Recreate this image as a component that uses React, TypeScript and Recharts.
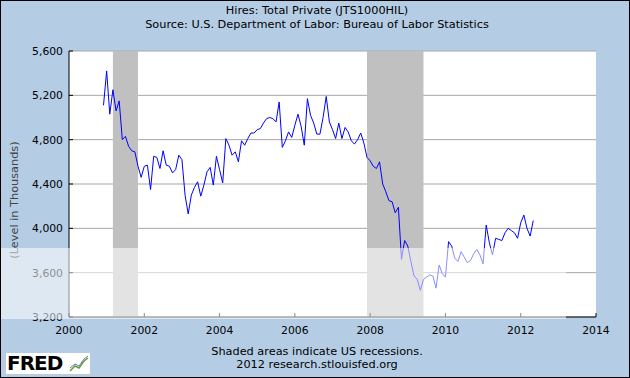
import React from "react";
import {
  LineChart,
  Line,
  XAxis,
  YAxis,
  CartesianGrid,
  ReferenceArea,
} from "recharts";

// monthly private hires, thousands (Dec 2000 .. May 2012)
const START_YEAR = 2000;
const START_MONTH = 12;
const hires2000 = [5110];
const hires2001 = [5420, 5030, 5250, 5060, 5150, 4800, 4830, 4740, 4700, 4690, 4560, 4460];
const hires2002 = [4560, 4570, 4350, 4650, 4640, 4540, 4700, 4570, 4560, 4500, 4530, 4660];
const hires2003 = [4620, 4300, 4130, 4300, 4370, 4420, 4290, 4390, 4510, 4550, 4390, 4650];
const hires2004 = [4530, 4410, 4810, 4750, 4660, 4690, 4600, 4790, 4750, 4810, 4860, 4860];
const hires2005 = [4890, 4900, 4950, 4990, 5000, 4990, 4960, 5140, 4730, 4790, 4870, 4820];
const hires2006 = [4930, 5030, 4920, 4750, 5170, 5020, 4950, 4850, 4850, 5000, 5190, 4960];
const hires2007 = [4890, 4810, 4950, 4810, 4910, 4870, 4790, 4760, 4800, 4860, 4770, 4640];
const hires2008 = [4610, 4560, 4540, 4600, 4400, 4330, 4250, 4240, 4140, 4190, 3720, 3890];
const hires2009 = [3840, 3700, 3570, 3540, 3440, 3540, 3560, 3580, 3570, 3460, 3670, 3590];
const hires2010 = [3560, 3880, 3840, 3730, 3700, 3790, 3740, 3690, 3710, 3770, 3810, 3760];
const hires2011 = [3680, 4030, 3870, 3760, 3910, 3900, 3890, 3960, 4000, 3980, 3960, 3910];
const hires2012 = [4050, 4120, 4000, 3930, 4070];

const X_TICKS = [2000, 2002, 2004, 2006, 2008, 2010, 2012, 2014];
const Y_TICKS = [3200, 3600, 4000, 4400, 4800, 5200, 5600];

// recession start / end (fractional years)
const RECESSIONS = [
  { start: 2001 + 2 / 12, end: 2001 + 10 / 12 },
  { start: 2007 + 11 / 12, end: 2009 + 5 / 12 },
];

const allHires = [
  ...hires2000, ...hires2001, ...hires2002, ...hires2003, ...hires2004, ...hires2005,
  ...hires2006, ...hires2007, ...hires2008, ...hires2009, ...hires2010, ...hires2011, ...hires2012,
];

const chartData = allHires.map((v, i) => ({
  date: START_YEAR + (START_MONTH - 1 + i) / 12,
  hires: v,
}));

const FONT = '"DejaVu Sans", Verdana, sans-serif';

function XTick({ x, y, payload }: any) {
  return (
    <g>
      <line x1={x} x2={x} y1={y} y2={y - 4} stroke="#000" />
      <text x={x} y={y + 17} textAnchor="middle" fontSize={10.8} fontFamily={FONT} fill="#000">
        {payload.value}
      </text>
    </g>
  );
}

function YTick({ x, y, payload }: any) {
  return (
    <g>
      <line x1={x} x2={x + 4} y1={y} y2={y} stroke="#000" />
      <text x={x - 6} y={y + 4} textAnchor="end" fontSize={10.8} fontFamily={FONT} fill="#000">
        {Number(payload.value).toLocaleString("en-US")}
      </text>
    </g>
  );
}

const textLine = (top: number, text: string) => (
  <div
    style={{
      position: "absolute",
      left: 2,
      top,
      width: 630,
      textAlign: "center",
      fontSize: 11.3,
      lineHeight: "13px",
      fontFamily: FONT,
      color: "#000",
      whiteSpace: "nowrap",
    }}
  >
    {text}
  </div>
);

export default function App() {
  return (
    <div
      style={{
        position: "absolute",
        left: 0,
        top: 0,
        width: 630,
        height: 378,
        background: "#b4cde5",
        overflow: "hidden",
        fontFamily: FONT,
      }}
    >
      <LineChart
        width={630}
        height={378}
        data={chartData}
        margin={{ top: 51, right: 34, bottom: 0, left: 0 }}
      >
        <CartesianGrid vertical={false} stroke="#a6a6a6" fill="#fff" />
        {RECESSIONS.map((r) => (
          <ReferenceArea
            key={r.start}
            x1={r.start}
            x2={r.end}
            fill="#c0c0c0"
            fillOpacity={1}
            stroke="none"
          />
        ))}
        <XAxis
          dataKey="date"
          type="number"
          domain={[2000, 2014]}
          ticks={X_TICKS}
          height={61}
          tickSize={0}
          tickMargin={0}
          axisLine={{ stroke: "#000" }}
          tick={(p: any) => <XTick {...p} />}
          interval={0}
          allowDataOverflow
        />
        <YAxis
          domain={[3200, 5600]}
          ticks={Y_TICKS}
          width={69}
          tickSize={0}
          tickMargin={0}
          axisLine={{ stroke: "#000" }}
          tick={(p: any) => <YTick {...p} />}
          interval={0}
          allowDataOverflow
        />
        <Line
          type="linear"
          dataKey="hires"
          stroke="#0000ff"
          strokeWidth={1}
          dot={false}
          isAnimationActive={false}
        />
      </LineChart>

      {textLine(4, "Hires: Total Private (JTS1000HIL)")}
      {textLine(18, "Source: U.S. Department of Labor: Bureau of Labor Statistics")}
      {textLine(344.5, "Shaded areas indicate US recessions.")}
      {textLine(357.5, "2012 research.stlouisfed.org")}

      <div
        style={{
          position: "absolute",
          left: 14,
          top: 200,
          transform: "translate(-50%, -50%) rotate(-90deg)",
          fontSize: 11.3,
          lineHeight: "13px",
          color: "#444",
          whiteSpace: "nowrap",
        }}
      >
        (Level in Thousands)
      </div>

      {/* FRED logo */}
      <div
        style={{
          position: "absolute",
          left: 6,
          top: 353,
          width: 84,
          height: 21,
          background: "#fff",
        }}
      >
        <div
          style={{
            position: "absolute",
            left: 1,
            top: -2,
            fontSize: 20,
            fontWeight: "bold",
            letterSpacing: -1,
            lineHeight: "24px",
            color: "#000",
          }}
        >
          FRED
        </div>
        <svg width={20} height={18} style={{ position: "absolute", left: 63, top: 2 }}>
          <polyline points="1,16 6,11 10,13 15,6 19,3" fill="none" stroke="#6a9a3a" strokeWidth={1.5} />
          <polyline points="1,13 6,9 10,11 15,4 19,1" fill="none" stroke="#5a7fb0" strokeWidth={1} />
        </svg>
      </div>

      {/* light band over the lower part of the picture */}
      <div
        style={{
          position: "absolute",
          left: 0,
          top: 248,
          width: 566,
          height: 71,
          background: "rgba(255,255,255,0.55)",
        }}
      />

      <div
        style={{
          position: "absolute",
          left: 0,
          top: 0,
          width: 630,
          height: 378,
          boxSizing: "border-box",
          border: "1px solid #000",
        }}
      />
    </div>
  );
}
